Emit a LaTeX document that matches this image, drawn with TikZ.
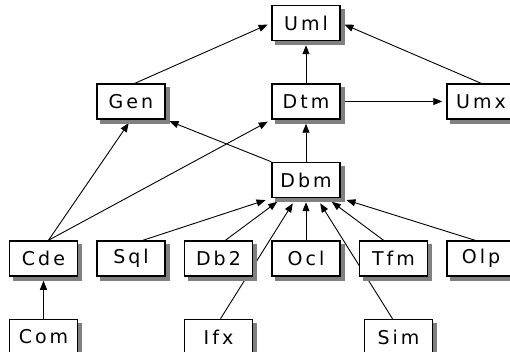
\documentclass[tikz,border=0pt]{standalone}
\usepackage{fontspec}
\setmainfont{DejaVu Sans}[LetterSpace=16]
\usepackage{tikz}
\usetikzlibrary{shapes, arrows.meta, calc, positioning, backgrounds}
\definecolor{shadowgray}{RGB}{128,128,128}
\tikzstyle{block} = [rectangle, minimum width=68pt, minimum height=35pt, text centered, draw=black, line width=1.5pt, fill=white, inner sep=2pt]
\tikzstyle{boxshadow} = [fill=shadowgray, draw=none]
\tikzstyle{arrow} = [line width=0.9pt, -{Triangle[length=9pt,width=7pt]}, shorten >=4pt]

\begin{document}
\begin{tikzpicture}[auto, x=1pt, y=1pt, node distance=42pt and 18pt, font=\fontsize{19}{22}\selectfont]
    \useasboundingbox (-306,23) rectangle (204,-329);
    \node (Uml) [block] {Uml};
    \node (Dtm) [block, below = of Uml] {Dtm};
    \node (Dbm) [block, below = of Dtm] {Dbm};
    \node (Ocl) [block, below = of Dbm] {Ocl};
    \node (Db2) [block, left = of Ocl] {Db2};
    \node (Sql) [block, left = of Db2] {Sql};
    \node (Cde) [block, left = of Sql] {Cde};
    \node (Tfm) [block, right = of Ocl] {Tfm};
    \node (Olp) [block, right = of Tfm] {Olp};
    \node (Gen) [block] at (Sql |- Dtm) {Gen};
    \node (Umx) [block] at (Olp |- Dtm) {Umx};
    \node (Com) [block, below = of Cde] {Com};
    \node (Ifx) [block, below = of Db2] {Ifx};
    \node (Sim) [block, below = of Tfm, xshift=5pt] {Sim};
    \begin{pgfonlayer}{background}
    % upper part
    \draw [arrow] ([xshift=4pt]Gen.north) -- (Uml.west);
    \draw [arrow] (Dtm) -- (Uml);
    \draw [arrow] (Umx.north) -- (Uml.east);
    \draw [arrow] (Dtm) -- (Umx);
    \draw [arrow] (Dbm) -- (Dtm);
    \draw [arrow] (Dbm.north west) -- (Gen.south east);
    \draw [arrow] ([xshift=5pt]Cde.north) -- (Gen.south);
    \draw [arrow] ([xshift=5pt]Cde.north) -- (Dtm.south west);
    \draw [arrow] (Com) -- (Cde);
    % into Dbm
    \draw [arrow, shorten >=6pt] ([xshift=12pt]Sql.north) -- (Dbm.south west);
    \draw [arrow, shorten >=6pt] ([xshift=7pt]Db2.north) -- ($(Dbm.south)+(-24,0)$);
    \draw [arrow, shorten >=6pt] ([xshift=2pt]Ifx.north) -- ($(Dbm.south)+(-10,0)$);
    \draw [arrow] (Ocl) -- (Dbm);
    \draw [arrow, shorten >=6pt] ([xshift=-6pt]Sim.north) -- ($(Dbm.south)+(11,0)$);
    \draw [arrow, shorten >=6pt] ([xshift=-10pt]Tfm.north) -- ($(Dbm.south)+(21,0)$);
    \draw [arrow, shorten >=6pt] ([xshift=-6pt]Olp.north) -- (Dbm.south east);
    % shadows
    \foreach \n in {Uml,Gen,Dtm,Umx,Dbm,Cde,Sql,Db2,Ocl,Tfm,Olp,Com,Ifx,Sim} {
        \path [boxshadow] ([shift={(4pt,-4pt)}]\n.south west) rectangle ([shift={(4pt,-4pt)}]\n.north east);
    }
    \end{pgfonlayer}
\end{tikzpicture}
\end{document}
